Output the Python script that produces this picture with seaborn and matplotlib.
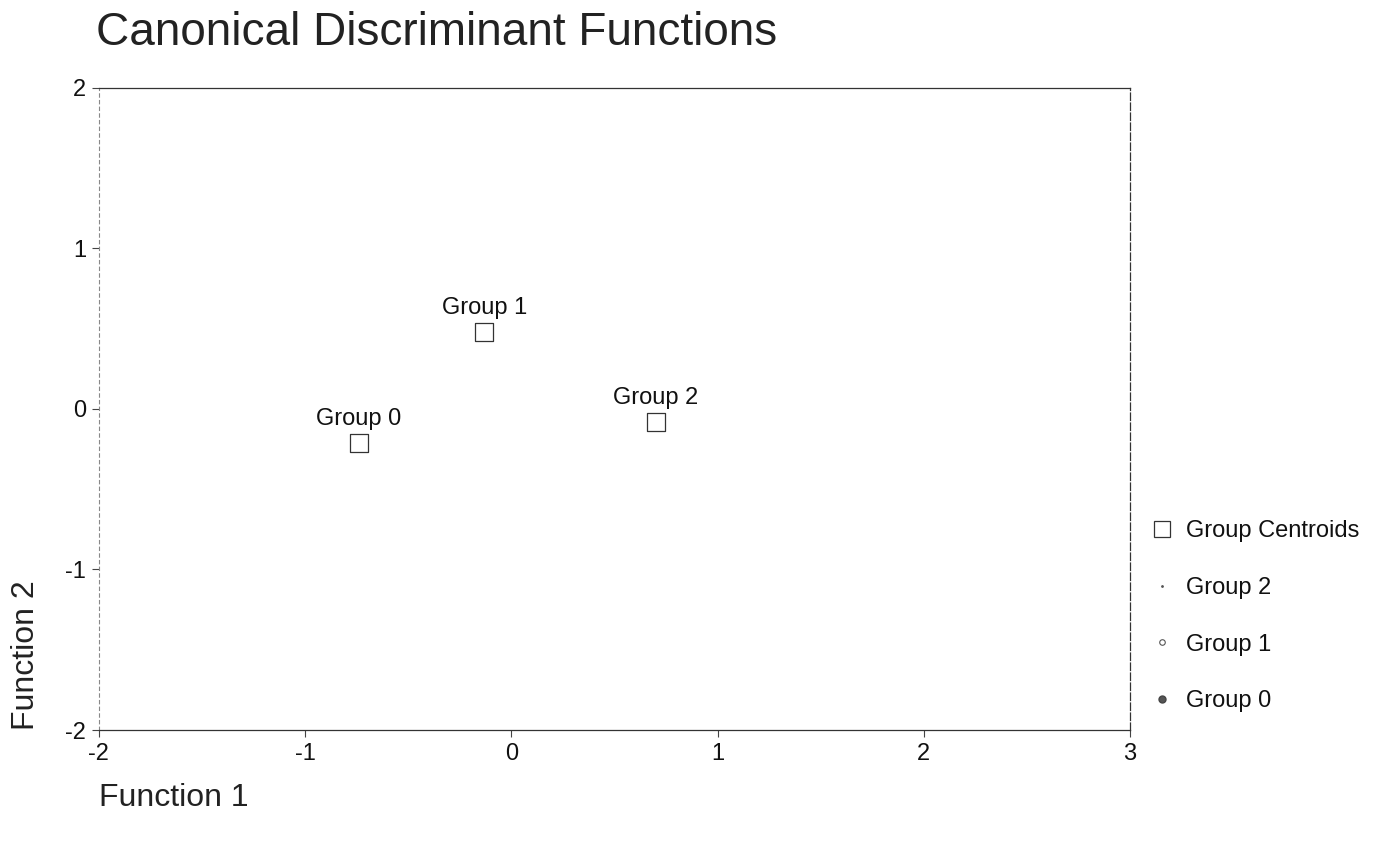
import matplotlib
matplotlib.use("Agg")
import matplotlib.pyplot as plt
from matplotlib.lines import Line2D
import seaborn as sns
import pandas as pd

groups = ["Group 0", "Group 1", "Group 2"]
func1 = [-0.74, -0.13, 0.70]
func2 = [-0.21, 0.48, -0.08]
xticks = [-2, -1, 0, 1, 2, 3]
yticks = [-2, -1, 0, 1, 2]
legend_labels = ["Group Centroids", "Group 2", "Group 1", "Group 0"]

sns.set_theme(style="white")
plt.rcParams["font.family"] = ["Liberation Sans", "DejaVu Sans"]

df = pd.DataFrame({"Function 1": func1, "Function 2": func2, "group": groups})

fig = plt.figure(figsize=(13.9, 8.43), dpi=100)
ax = fig.add_axes([0.071, 0.134, 0.742, 0.762])

sns.scatterplot(data=df, x="Function 1", y="Function 2", marker="s", s=170,
                facecolor="white", edgecolor="#333333", linewidth=0.9,
                legend=False, ax=ax)
for gx, gy, g in zip(func1, func2, groups):
    ax.annotate(g, (gx, gy), xytext=(0, 9), textcoords="offset points",
                ha="center", va="bottom", fontsize=17, color="#111111")

ax.set_xlim(-2, 3)
ax.set_ylim(-2, 2)
ax.set_xticks(xticks)
ax.set_yticks(yticks)
ax.set_xticklabels([str(t) for t in xticks], fontsize=17)
ax.set_yticklabels([str(t) for t in yticks], fontsize=17)
ax.tick_params(axis="both", direction="out", length=5, width=0.8,
               color="#444444", bottom=True, left=True, pad=4,
               labelcolor="#111111")
for side in ["top", "right", "bottom"]:
    ax.spines[side].set_color("#333333")
    ax.spines[side].set_linewidth(0.9)
ax.spines["left"].set_color("#888888")
ax.spines["left"].set_linewidth(0.8)
ax.spines["left"].set_linestyle((0, (3, 3)))
ax.spines["right"].set_linestyle((0, (6, 2)))
ax.set_xlabel("")
ax.set_ylabel("")

fig.text(0.069, 0.961, "Canonical Discriminant Functions", fontsize=33,
         ha="left", va="center", color="#222222")
fig.text(0.071, 0.053, "Function 1", fontsize=23, ha="left", va="center",
         color="#222222")
fig.text(0.019, 0.134, "Function 2", fontsize=23, ha="center", va="bottom",
         rotation=90, color="#222222")

handles = [
    Line2D([], [], marker="s", linestyle="", markersize=11,
           markerfacecolor="white", markeredgecolor="#333333", markeredgewidth=0.9),
    Line2D([], [], marker=".", linestyle="", markersize=2,
           markerfacecolor="#555555", markeredgecolor="#555555"),
    Line2D([], [], marker="o", linestyle="", markersize=4,
           markerfacecolor="white", markeredgecolor="#555555", markeredgewidth=0.8),
    Line2D([], [], marker="o", linestyle="", markersize=5,
           markerfacecolor="#555555", markeredgecolor="#444444"),
]
fig.legend(handles, legend_labels, loc="upper left",
           bbox_to_anchor=(0.811, 0.408), frameon=False, fontsize=17,
           labelspacing=1.47, handletextpad=0.5, handlelength=1.1,
           labelcolor="#111111")

fig.savefig("out.png", dpi=100)
